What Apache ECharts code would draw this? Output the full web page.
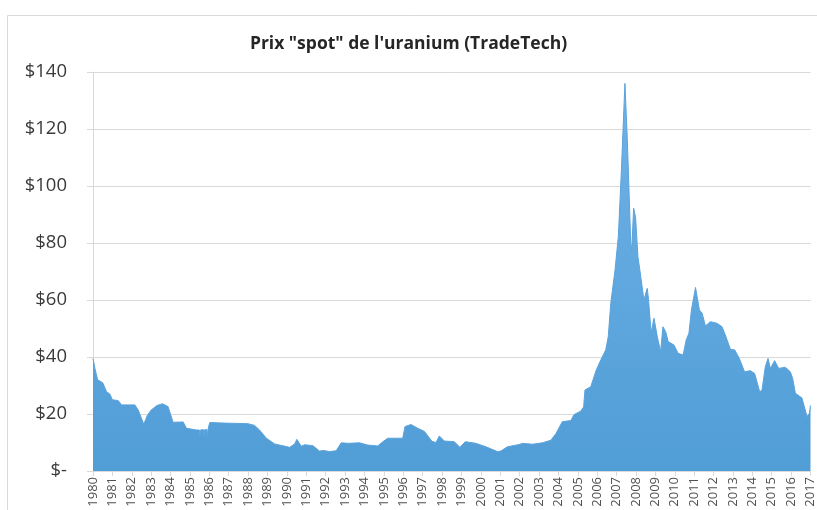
<!DOCTYPE html>
<html>
<head>
<meta charset="utf-8">
<script src="https://cdn.jsdelivr.net/npm/echarts@6/dist/echarts.min.js"></script>
<style>
  html, body { margin: 0; padding: 0; background: #fff; }
  #chart { width: 817px; height: 510px; }
</style>
</head>
<body>
<div id="chart"></div>
<script>
const chartTitle = 'Prix "spot" de l\'uranium (TradeTech)';
const years = [
  1980.00, 1980.10, 1980.24, 1980.50, 1980.70, 1980.87, 1981.00, 1981.30, 1981.47, 1982.16,
  1982.33, 1982.50, 1982.62, 1982.80, 1983.00, 1983.30, 1983.58, 1983.87, 1984.13, 1984.65,
  1984.82, 1985.33, 1985.48, 1985.51, 1985.54, 1985.70, 1985.73, 1985.76, 1985.87, 1985.90,
  1985.93, 1986.02, 1986.80, 1987.99, 1988.33, 1988.60, 1988.94, 1989.37, 1990.14, 1990.40,
  1990.51, 1990.62, 1990.74, 1990.91, 1991.34, 1991.68, 1991.90, 1991.99, 1992.20, 1992.54,
  1992.80, 1993.14, 1993.74, 1994.17, 1994.68, 1994.95, 1995.20, 1995.97, 1996.09, 1996.40,
  1996.74, 1997.09, 1997.48, 1997.69, 1997.86, 1998.12, 1998.63, 1998.92, 1999.20, 1999.74,
  2000.26, 2000.86, 2001.03, 2001.37, 2001.98, 2002.15, 2002.66, 2003.18, 2003.61, 2003.87,
  2004.20, 2004.64, 2004.81, 2005.15, 2005.30, 2005.37, 2005.67, 2005.95, 2006.18, 2006.44,
  2006.57, 2006.70, 2006.92, 2007.09, 2007.25, 2007.43, 2007.55, 2007.73, 2007.78, 2007.88,
  2007.98, 2008.10, 2008.20, 2008.41, 2008.58, 2008.65, 2008.78, 2008.93, 2009.10, 2009.27,
  2009.39, 2009.53, 2009.66, 2009.96, 2010.17, 2010.43, 2010.59, 2010.73, 2010.86, 2011.07,
  2011.27, 2011.41, 2011.58, 2011.84, 2012.18, 2012.44, 2012.64, 2012.87, 2013.09, 2013.33,
  2013.60, 2013.90, 2014.12, 2014.38, 2014.50, 2014.67, 2014.81, 2014.93, 2015.15, 2015.36,
  2015.70, 2015.96, 2016.08, 2016.22, 2016.56, 2016.82, 2016.94, 2017.00
];
const prices = [
  39.5, 36, 32, 31, 27.8, 27, 25, 24.7, 23.2, 23.2,
  21.4, 18.5, 16.4, 19.5, 21.4, 23, 23.6, 22.6, 17.1, 17.2,
  15, 14.4, 14.4, 12, 14.4, 14.5, 12, 14.5, 14.5, 12,
  14.6, 17, 16.8, 16.6, 16, 14.3, 11.5, 9.5, 8.3, 9.5,
  11.1, 10, 8.7, 9.2, 8.9, 7.0, 7.2, 7.9, 6.8, 7.1,
  9.9, 9.7, 9.9, 9.1, 8.8, 10.3, 11.5, 11.5, 15.6, 16.3,
  15.0, 13.9, 10.4, 10.0, 12.3, 10.5, 10.3, 8.3, 10.3, 9.7,
  8.5, 6.8, 7.0, 8.5, 9.3, 9.7, 9.4, 9.9, 10.8, 13.1,
  17.3, 17.7, 19.8, 21, 22.5, 28.4, 29.6, 35.4, 38.9, 42.5,
  47.1, 58.8, 70.5, 82.2, 105.6, 136, 117, 79.9, 77.5, 92.2,
  89, 75.2, 70.5, 60, 64.1, 60, 48.5, 53.6, 47.1, 41.9,
  50.6, 48.9, 45.4, 44.2, 41.3, 40.7, 46, 48.3, 56.5, 64.4,
  56.5, 55.4, 50.9, 52.4, 51.8, 50.6, 47.1, 42.7, 42.5, 39.5,
  34.8, 35.2, 34.2, 27.8, 28.4, 36.6, 39.5, 36, 38.7, 36,
  36.4, 34.8, 32.5, 27.3, 25.6, 19.1, 20.2, 23
];
const yTicks = [0, 20, 40, 60, 80, 100, 120, 140];

const seriesData = years.map((y, i) => [y, prices[i]]);

const chart = echarts.init(document.getElementById('chart'), null, { renderer: 'canvas' });
chart.setOption({
  animation: false,
  backgroundColor: '#ffffff',
  title: {
    text: chartTitle,
    left: 'center',
    top: 30,
    textStyle: { fontFamily: 'Open Sans', fontSize: 17.5, fontWeight: 'bold', color: '#262626' }
  },
  graphic: [{
    type: 'rect',
    shape: { x: 7.5, y: 15.5, width: 900, height: 600 },
    style: { fill: 'none', stroke: '#d9d9d9', lineWidth: 1 },
    silent: true
  }],
  grid: { left: 93, right: 5, top: 72, bottom: 39 },
  xAxis: {
    type: 'value',
    min: 1980,
    max: 2017,
    interval: 1,
    axisLine: { show: true, lineStyle: { color: '#d9d9d9' } },
    axisTick: { show: true, length: 5, lineStyle: { color: '#d9d9d9' } },
    splitLine: { show: false },
    axisLabel: {
      rotate: 90,
      fontFamily: 'Open Sans',
      fontSize: 13,
      color: '#505050',
      margin: 6,
      formatter: v => String(Math.round(v))
    }
  },
  yAxis: {
    type: 'value',
    min: yTicks[0],
    max: yTicks[yTicks.length - 1],
    interval: 20,
    axisLine: { show: true, lineStyle: { color: '#d9d9d9' } },
    axisTick: { show: true, length: 6, lineStyle: { color: '#d9d9d9' } },
    splitLine: { show: true, lineStyle: { color: '#d9d9d9', width: 1 } },
    axisLabel: {
      fontFamily: 'Open Sans',
      fontSize: 18.5,
      color: '#3a3a3a',
      margin: 26,
      formatter: v => v === 0 ? '$-' : '$' + v
    }
  },
  series: [{
    type: 'line',
    data: seriesData,
    showSymbol: false,
    smooth: false,
    lineStyle: { width: 1, color: '#5ba3dc' },
    areaStyle: {
      opacity: 1,
      color: new echarts.graphic.LinearGradient(0, 0, 0, 1, [
        { offset: 0, color: '#6fb2e8' },
        { offset: 1, color: '#519dd6' }
      ])
    }
  }]
});
</script>
</body>
</html>
